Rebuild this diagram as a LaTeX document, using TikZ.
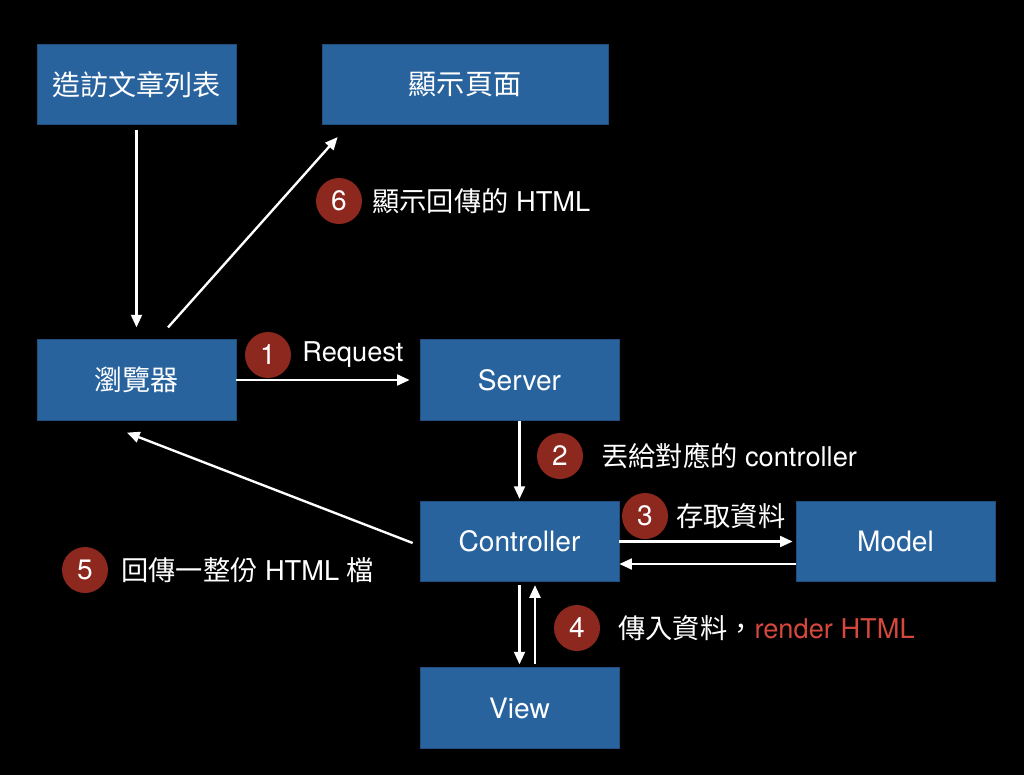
\documentclass[tikz,border=0pt]{standalone}
\usepackage{fontspec}
\setmainfont{TeX Gyre Heros}
\newfontfamily\cjk{Noto Sans CJK TC}
\usetikzlibrary{calc,arrows.meta}
\definecolor{boxblue}{RGB}{40,99,158}
\definecolor{stepred}{RGB}{140,40,30}
\definecolor{htmlred}{RGB}{212,72,62}

\begin{document}
\begin{tikzpicture}[x=0.02cm,y=-0.02cm,
        block/.style={draw=boxblue!80!black, fill=boxblue, text=white, minimum width=3.98cm, minimum height=1.61cm, inner sep=0pt, font=\fontsize{16}{19}\selectfont},
        num/.style={circle, fill=stepred, text=white, minimum size=0.92cm, inner sep=0pt, font=\fontsize{16}{19}\selectfont},
        steptext/.style={anchor=west, text=white, inner sep=0pt, font=\fontsize{15.5}{18}\selectfont},
        flow/.style={draw=white, line width=1.35pt, -{Triangle[length=7.2pt,width=6.2pt]}}]
        \fill[black] (0,0) rectangle (1024,775);

        % boxes
        \node[block] (visit) at (136.5,84.5) {\cjk 造訪文章列表};
        \node[block, minimum width=5.72cm] (page) at (465,84.5) {\cjk 顯示頁面};
        \node[block] (browser) at (136.5,380) {\cjk 瀏覽器};
        \node[block] (server) at (519.5,380) {Server};
        \node[block] (controller) at (519.5,541.5) {Controller};
        \node[block] (model) at (895.5,541.5) {Model};
        \node[block] (view) at (519.5,708) {View};

        % steps
        \node[num] (n1) at (268,355) {1};
        \node[steptext] (t1) at (302,355) {Request};
        \node[num] (n2) at (560,456) {2};
        \node[steptext] (t2) at (601,456) {{\cjk 丟給對應的} controller};
        \node[num] (n3) at (645,516) {3};
        \node[steptext] (t3) at (676,516) {\cjk 存取資料};
        \node[num] (n4) at (577,628) {4};
        \node[steptext] (t4) at (618,628) {{\cjk 傳入資料，}\textcolor{htmlred}{render HTML}};
        \node[num] (n5) at (85,570) {5};
        \node[steptext] (t5) at (121,570) {{\cjk 回傳一整份} HTML {\cjk 檔}};
        \node[num] (n6) at (339,201) {6};
        \node[steptext] (t6) at (372,201) {{\cjk 顯示回傳的} HTML};

        % arrows
        \draw[flow] ($(visit.south)+(0,5)$) -- ($(browser.north)+(0,-12)$);
        \draw[flow] ($(browser.north)+(31.5,-12)$) -- ($(page.south west)+(16,12)$);
        \draw[flow] (browser.east) -- ($(server.west)+(-10,0)$);
        \draw[flow] (server.south) -- ($(controller.north)+(0,-2)$);
        \draw[flow] ($(controller.west)+(-7,1.5)$) -- ($(browser.south)+(-9.5,12)$);
        \draw[flow] (controller.east) -- ($(model.west)+(-3,0)$);
        \draw[flow] ($(model.west)+(0,22.5)$) -- ($(controller.east)+(0,22.5)$);
        \draw[flow] ($(controller.south)+(0,3)$) -- ($(view.north)+(0,-3)$);
        \draw[flow] ($(view.north)+(15.5,-3)$) -- ($(controller.south)+(15.5,3)$);
\end{tikzpicture}
\end{document}
